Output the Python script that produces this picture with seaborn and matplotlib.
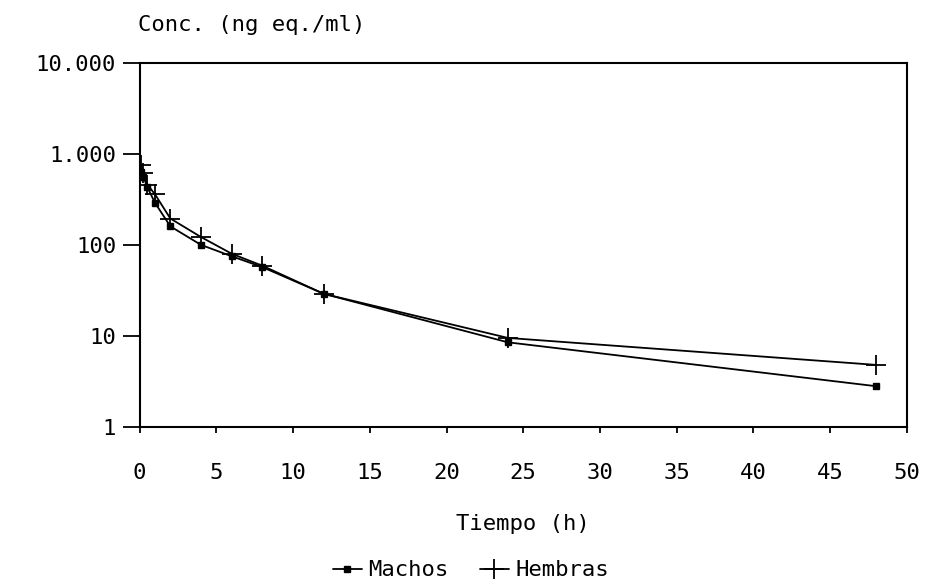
import pandas as pd
import matplotlib.pyplot as plt
import seaborn as sns
import numpy as np

# Time points (h) and concentrations (ng eq./ml)
tiempo = [0.08, 0.25, 0.5, 1, 2, 4, 6, 8, 12, 24, 48]
machos = [640, 560, 430, 290, 160, 100, 75, 57, 29, 8.5, 2.8]
hembras = [760, 620, 460, 360, 195, 122, 80, 59, 29, 9.5, 4.8]

x_ticks = [0, 5, 10, 15, 20, 25, 30, 35, 40, 45, 50]
y_ticks = [1, 10, 100, 1000, 10000]
y_tick_labels = ['1', '10', '100', '1.000', '10.000']

df = pd.DataFrame({
    'Tiempo': tiempo * 2,
    'Conc': machos + hembras,
    'Sexo': ['Machos'] * len(tiempo) + ['Hembras'] * len(tiempo),
})

sns.set_style("white", {'text.color': 'black', 'axes.labelcolor': 'black',
                        'xtick.color': 'black', 'ytick.color': 'black'})
plt.rcParams['font.family'] = ['DejaVu Sans Mono']
fs = 16

fig = plt.figure(figsize=(9.31, 5.88), dpi=100)
ax = fig.add_axes([0.150, 0.274, 0.824, 0.619])

sns.lineplot(data=df, x='Tiempo', y='Conc', hue='Sexo',
             palette={'Machos': 'black', 'Hembras': 'black'},
             linewidth=1.3, ax=ax, legend=False)

# markers drawn separately so they can have different sizes
m = df[df['Sexo'] == 'Machos']
h = df[df['Sexo'] == 'Hembras']
ax.plot(m['Tiempo'], m['Conc'], linestyle='none', marker='s', markersize=4,
        color='black')
ax.plot(h['Tiempo'], h['Conc'], linestyle='none', marker='+', markersize=15,
        markeredgewidth=1.3, color='black')

ax.set_yscale('log')
ax.set_xlim(0, 50)
ax.set_ylim(1, 10000)
ax.set_xticks(x_ticks)
ax.set_xticklabels([str(t) for t in x_ticks], fontsize=fs)
ax.set_yticks(y_ticks)
ax.set_yticklabels(y_tick_labels, fontsize=fs)
ax.minorticks_off()
ax.tick_params(axis='y', direction='out', length=12, width=1.3, left=True,
               pad=5)
ax.tick_params(axis='x', direction='out', length=4, width=1.3, bottom=True,
               pad=22)
for s in ax.spines.values():
    s.set_color('black')
    s.set_linewidth(1.5)

ax.set_xlabel('Tiempo (h)', fontsize=fs, labelpad=22)
ax.set_ylabel('')
fig.text(0.148, 0.958, 'Conc. (ng eq./ml)', fontsize=fs, ha='left',
         va='center')

handles = [
    plt.Line2D([], [], color='black', marker='s', markersize=4, linewidth=1.3),
    plt.Line2D([], [], color='black', marker='+', markersize=14,
               linewidth=1.3, markeredgewidth=1.3),
]
fig.legend(handles, ['Machos', 'Hembras'], loc='center',
           bbox_to_anchor=(0.506, 0.03), ncol=2, frameon=False,
           fontsize=fs, handlelength=1.3, handletextpad=0.3,
           columnspacing=1.4, borderpad=0.2)

fig.savefig('out.png', dpi=100)
